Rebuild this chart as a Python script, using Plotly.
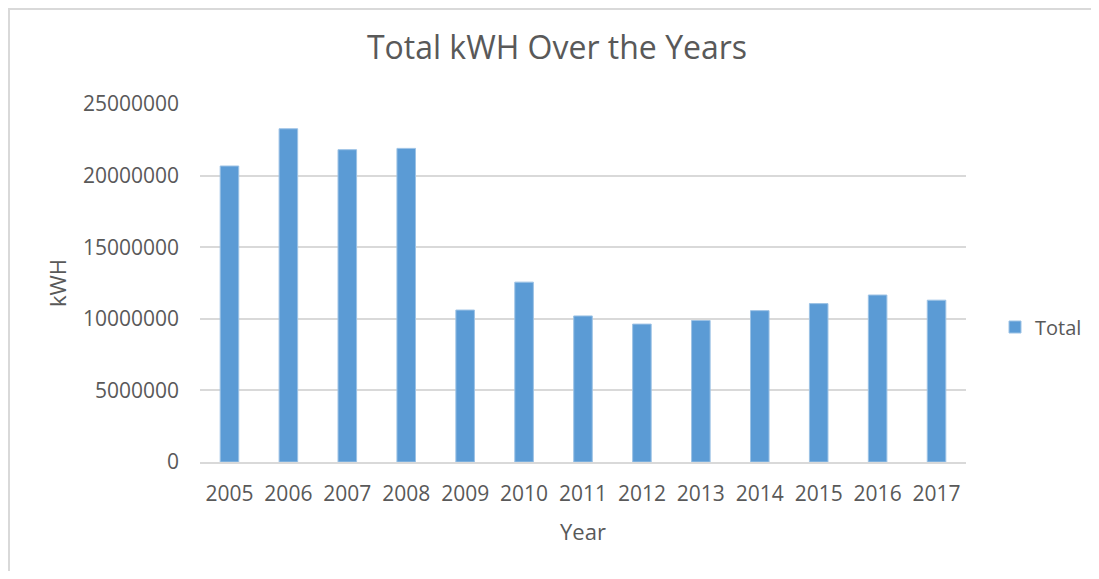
import plotly.graph_objects as go

years = ["2005", "2006", "2007", "2008", "2009", "2010", "2011", "2012", "2013", "2014", "2015", "2016", "2017"]
totals = [20670000, 23270000, 21810000, 21900000, 10610000, 12560000, 10200000,
          9630000, 9880000, 10570000, 11060000, 11660000, 11300000]
y_ticks = [0, 5000000, 10000000, 15000000, 20000000, 25000000]

# page body has an 8px margin; work in figure coordinates = screen - 8
OFF = 8
W, H = 1099 - 2 * OFF, 579 - 2 * OFF
ML = 200 - OFF
MT = 104 - OFF
MR = W - (966 - OFF)
MB = H - (462 - OFF)
pw, ph = W - ML - MR, H - MT - MB

def px(xs):
    return (xs - OFF - ML) / pw

def py(ys):
    return (H - MB - (ys - OFF)) / ph

text_col = "#595959"
font_fam = "Open Sans, Noto Sans, sans-serif"

fig = go.Figure()
fig.add_trace(go.Bar(
    x=years, y=totals, name="Total",
    marker=dict(color="#5b9bd5", line=dict(color="#9cc2e5", width=1)),
))

fig.update_layout(
    width=W, height=H,
    margin=dict(l=ML, r=MR, t=MT, b=MB, autoexpand=False),
    paper_bgcolor="white", plot_bgcolor="white",
    bargap=0.685,
    font=dict(family=font_fam, color=text_col, size=20),
    title=dict(text="Total kWH Over the Years", xref="container",
               x=(557 - OFF) / W, xanchor="center",
               yref="container", y=1 - (48 - OFF) / H, yanchor="middle",
               font=dict(size=32, color=text_col, family=font_fam)),
    showlegend=True,
    legend=dict(x=px(995), y=py(327), xanchor="left", yanchor="middle",
                font=dict(size=20, color=text_col), itemwidth=30,
                bgcolor="rgba(0,0,0,0)"),
    xaxis=dict(title=dict(text="Year", font=dict(size=22, color=text_col), standoff=19),
               showgrid=False, showline=True, linecolor="#d9d9d9", linewidth=1.5,
               ticks="", ticklabelstandoff=12, tickfont=dict(size=21, color=text_col)),
    yaxis=dict(title=dict(text="kWH", font=dict(size=22, color=text_col), standoff=10),
               range=[0, 25000000], tickvals=y_ticks,
               ticktext=[str(v) for v in y_ticks],
               showgrid=True, gridcolor="#d9d9d9", gridwidth=1.5,
               zeroline=False, showline=False, ticks="", ticklen=0,
               ticklabelstandoff=20,
               tickfont=dict(size=21, color=text_col)),
)

fig.add_shape(type="rect", xref="paper", yref="paper",
              x0=px(9), x1=px(1098), y0=py(620), y1=py(9),
              line=dict(color="#d9d9d9", width=2), fillcolor="rgba(0,0,0,0)", layer="below")

fig.write_html("out.html")
